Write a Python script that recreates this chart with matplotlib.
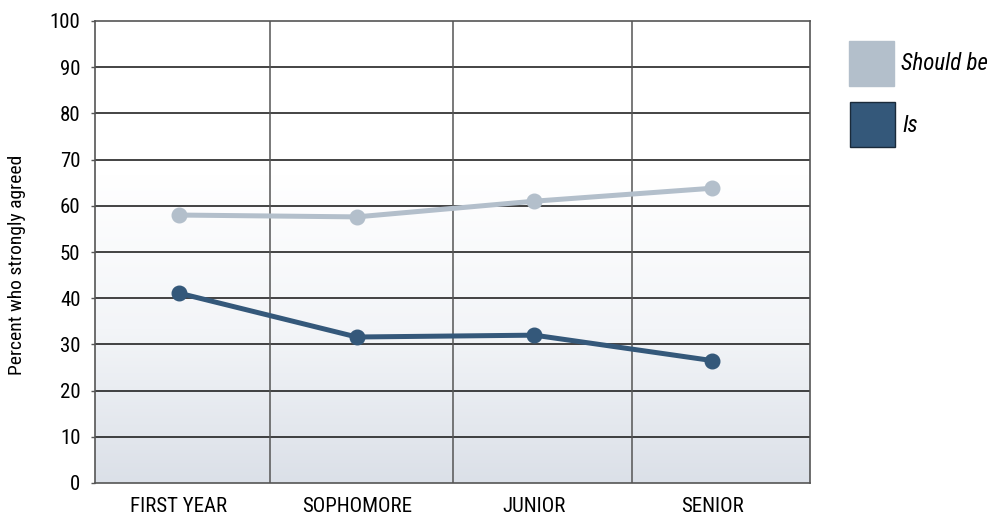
"""Percent who strongly agreed, by class year."""

import numpy as np
import matplotlib.pyplot as plt
from matplotlib.colors import LinearSegmentedColormap
from matplotlib.patches import Rectangle

categories = ["FIRST YEAR", "SOPHOMORE", "JUNIOR", "SENIOR"]
should_be = [58.0, 57.6, 61.0, 63.8]
is_values = [41.1, 31.6, 32.0, 26.5]
series_names = ["Should be", "Is"]
y_ticks = list(range(0, 101, 10))

LIGHT = "#b3bfcb"
DARK = "#34587a"
W, H = 990, 518

plt.rcParams["font.family"] = ["Roboto Condensed", "DejaVu Sans"]

fig = plt.figure(figsize=(W / 100, H / 100), dpi=100)
ax = fig.add_axes([95 / W, 1 - 483 / H, 715 / W, 462 / H])

x = np.arange(len(categories))
xlim = (-0.473, 3.551)

# background gradient: white at the top fading to pale blue-grey at the bottom
grad = np.linspace(0, 1, 256).reshape(-1, 1)
cmap = LinearSegmentedColormap.from_list("bg", ["#dbe0e8", "#f3f5f8", "#ffffff", "#ffffff"])
ax.imshow(grad, cmap=cmap, aspect="auto", origin="lower",
          extent=(xlim[0], xlim[1], 0, 100), zorder=0)

for yv in y_ticks[1:-1]:
    ax.axhline(yv, color="#111111", lw=1.1, zorder=1)
for xv in [0.51, 1.54, 2.55]:
    ax.axvline(xv, color="#555555", lw=1.1, zorder=1)

ax.plot(x, should_be, color=LIGHT, lw=3.6, marker="o", ms=10.5, zorder=3)
ax.plot(x, is_values, color=DARK, lw=3.6, marker="o", ms=10.5, zorder=3)

ax.set_xlim(*xlim)
ax.set_ylim(0, 100)
ax.set_xticks(x)
ax.set_xticklabels(categories)
ax.set_yticks(y_ticks)
ax.tick_params(axis="x", length=0, pad=10, labelsize=15)
ax.tick_params(axis="y", length=3, width=1, color="#555555", pad=7.5, labelsize=15)
for side in ["top", "right", "bottom", "left"]:
    ax.spines[side].set_color("#555555")
    ax.spines[side].set_linewidth(1.2)

ax.set_ylabel("Percent who strongly agreed", fontsize=14)
ax.yaxis.set_label_coords(-0.097, 0.472)

# legend: two swatches with italic labels to the right of the plot
swatches = [
    (849, 41, LIGHT, LIGHT, series_names[0]),
    (850, 102, DARK, "#1a2a3a", series_names[1]),
]
for left, top, face, edge, label in swatches:
    fig.patches.append(Rectangle(
        (left / W, 1 - (top + 45) / H), 45 / W, 45 / H,
        transform=fig.transFigure, facecolor=face, edgecolor=edge, lw=1,
    ))
    fig.text((left + 52) / W, 1 - (top + 23) / H, label,
             fontsize=16.5, style="italic", va="center", ha="left")

fig.savefig("out.png", dpi=100)
